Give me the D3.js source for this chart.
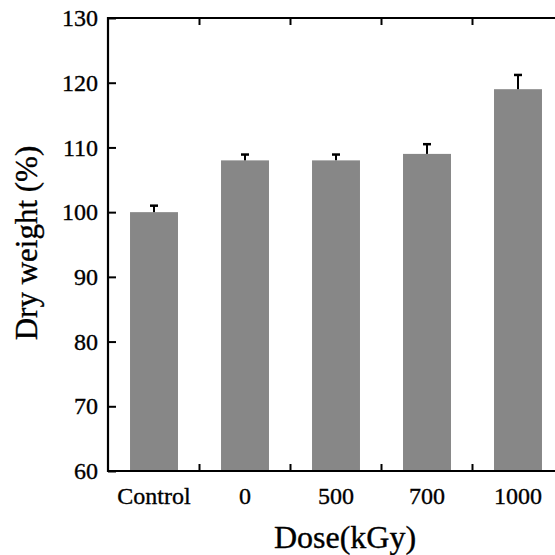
<!DOCTYPE html>
<html>
<head>
<meta charset="utf-8">
<script src="https://cdn.jsdelivr.net/npm/d3@7"></script>
<style>
  body { margin: 0; background: #fff; }
  text { font-family: "Liberation Serif", "Times New Roman", serif; fill: #000; stroke: #000; stroke-width: 0.35px; }
</style>
</head>
<body>
<div class="chart"></div>
<script>
  // data
  const doses = ["Control", "0", "500", "700", "1000"];
  const dryWeight = [100, 108, 108, 109, 119];
  const errUp = [1.0, 0.9, 0.9, 1.5, 2.2];
  const yTicks = [60, 70, 80, 90, 100, 110, 120, 130];

  const width = 555;
  const height = 555;
  const plotLeft = 108, plotTop = 18, plotBottom = 471, plotRight = 564;

  const svg = d3.select(".chart")
                .append("svg")
                .attr("width", width)
                .attr("height", height);

  const x = d3.scaleBand()
              .domain(doses)
              .range([plotLeft, plotRight])
              .paddingInner(0.473)
              .paddingOuter(0.242);

  const y = d3.scaleLinear()
              .domain([60, 130])
              .range([plotBottom, plotTop]);

  const rows = doses.map(function(d, i) {
    return { name: d, value: dryWeight[i], err: errUp[i] };
  });

  // bars
  svg.selectAll("rect.bar")
     .data(rows)
     .enter()
     .append("rect")
     .attr("class", "bar")
     .attr("x", function(d) { return x(d.name); })
     .attr("y", function(d) { return y(d.value); })
     .attr("width", x.bandwidth())
     .attr("height", function(d) { return plotBottom - y(d.value); })
     .style("fill", "#878787");

  // error bars (upper only)
  const cx = function(d) { return x(d.name) + x.bandwidth() / 2; };
  svg.selectAll("line.err")
     .data(rows)
     .enter()
     .append("line")
     .attr("x1", cx).attr("x2", cx)
     .attr("y1", function(d) { return y(d.value); })
     .attr("y2", function(d) { return y(d.value + d.err); })
     .style("stroke", "#000").style("stroke-width", 2);
  svg.selectAll("line.cap")
     .data(rows)
     .enter()
     .append("line")
     .attr("x1", function(d) { return cx(d) - 4; })
     .attr("x2", function(d) { return cx(d) + 4; })
     .attr("y1", function(d) { return y(d.value + d.err); })
     .attr("y2", function(d) { return y(d.value + d.err); })
     .style("stroke", "#000").style("stroke-width", 2.5);

  // left axis, ticks pointing in
  const yAxis = d3.axisLeft(y).tickValues(yTicks).tickSize(-8).tickPadding(10);
  const gy = svg.append("g").attr("transform", "translate(" + plotLeft + ",0)").call(yAxis);
  gy.select(".domain").remove();
  gy.selectAll("line").style("stroke-width", 2);
  gy.selectAll("text")
    .style("font-size", "24px")
    .attr("x", -10);

  // right axis (mostly off-frame)
  const gr = svg.append("g").attr("transform", "translate(" + plotRight + ",0)")
                .call(d3.axisRight(y).tickValues(yTicks).tickSize(-9).tickFormat(""));
  gr.select(".domain").remove();
  gr.selectAll("line").style("stroke-width", 2);

  // bottom axis labels
  const gx = svg.append("g").attr("transform", "translate(0," + plotBottom + ")")
                .call(d3.axisBottom(x).tickSize(0).tickPadding(16));
  gx.select(".domain").remove();
  gx.selectAll("text")
    .style("font-size", "24px");

  // minor ticks between bars, on bottom (up) and top (down)
  const mids = doses.slice(1).map(function(d) { return x(d) - x.step() * x.paddingInner() / 2; });
  svg.selectAll("line.btick")
     .data(mids).enter().append("line")
     .attr("x1", function(d) { return d; }).attr("x2", function(d) { return d; })
     .attr("y1", plotBottom).attr("y2", plotBottom - 7)
     .style("stroke", "#000").style("stroke-width", 2);
  svg.selectAll("line.ttick")
     .data(mids).enter().append("line")
     .attr("x1", function(d) { return d; }).attr("x2", function(d) { return d; })
     .attr("y1", plotTop).attr("y2", plotTop + 7)
     .style("stroke", "#000").style("stroke-width", 2);

  // frame
  svg.append("path")
     .attr("d", "M" + plotRight + "," + plotTop + "H" + plotLeft + "V" + plotBottom + "H" + plotRight)
     .style("fill", "none").style("stroke", "#000").style("stroke-width", 2.2);

  // axis titles
  svg.append("text")
     .attr("x", 345).attr("y", 548)
     .attr("text-anchor", "middle")
     .style("font-size", "32px")
     .text("Dose(kGy)");

  svg.append("text")
     .attr("transform", "translate(37,243) rotate(-90)")
     .attr("text-anchor", "middle")
     .style("font-size", "31px")
     .text("Dry weight (%)");
</script>
</body>
</html>
